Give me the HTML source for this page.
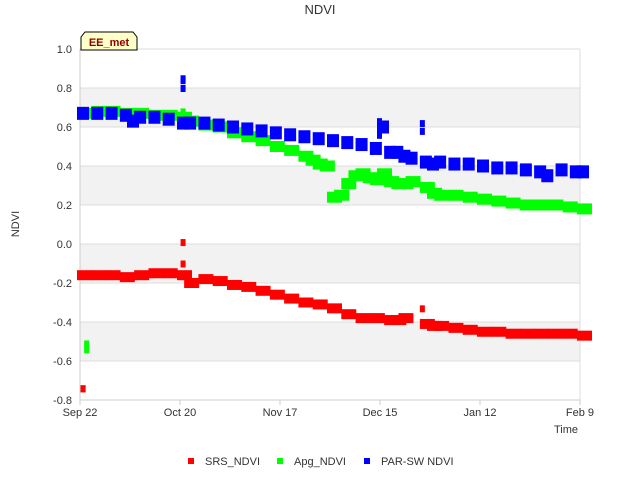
<!DOCTYPE html>
<html><head><meta charset="utf-8"><style>
body{margin:0;background:#fff;font-family:"Liberation Sans","DejaVu Sans",sans-serif}
</style></head><body>
<svg width="640" height="480" xmlns="http://www.w3.org/2000/svg" font-family="Liberation Sans, DejaVu Sans, sans-serif">
<text x="320" y="14" text-anchor="middle" font-size="13" fill="#333">NDVI</text>
<g id="grid"></g>
<g id="yt"></g>
<g id="xt"></g>
<text transform="translate(19,224) rotate(-90)" text-anchor="middle" font-size="11" fill="#333">NDVI</text>
<text x="578" y="433" text-anchor="end" font-size="11" fill="#333">Time</text>
<g id="marks"></g>
<g>
<path d="M81,50 L81,37 L85,32 L133,32 L137,37 L137,50 Z" fill="#ffffc8" stroke="#000" stroke-width="1"/>
<text x="109" y="46" text-anchor="middle" font-size="11" font-weight="bold" fill="#8b0000">EE_met</text>
</g>
<g>
<g><rect x="188" y="458" width="6" height="6" fill="#f00"/><text x="205" y="465" font-size="11" fill="#333">SRS_NDVI</text></g>
<g><rect x="277" y="458" width="6" height="6" fill="#0f0"/><text x="294" y="465" font-size="11" fill="#333">Apg_NDVI</text></g>
<g><rect x="364" y="458" width="6" height="6" fill="#00f"/><text x="381" y="465" font-size="11" fill="#333">PAR-SW NDVI</text></g>
</g>
</svg>
<script>
const yTicks=[1.0,0.8,0.6,0.4,0.2,0.0,-0.2,-0.4,-0.6,-0.8];
const xTickDays=[0,28,56,84,112,140];
const xTickLabels=["Sep 22","Oct 20","Nov 17","Dec 15","Jan 12","Feb 9"];
const parDays=[0,4,8,12,14,16,20,24,28,30,34,38,42,46,50,54,58,62,66,70,74,78,82,84,86,88,90,92,96,98,100,104,108,112,116,120,124,128,130,134,138,140];
const parVals=[0.67,0.67,0.67,0.66,0.63,0.65,0.65,0.64,0.62,0.62,0.62,0.61,0.60,0.59,0.58,0.57,0.56,0.55,0.54,0.53,0.52,0.51,0.49,0.60,0.47,0.47,0.45,0.44,0.42,0.41,0.42,0.41,0.41,0.40,0.39,0.39,0.38,0.37,0.35,0.38,0.37,0.37];
const aDays=[0,4,8,12,16,20,24,28,30,34,38,42,46,50,54,58,62,64,66,68,70,72,74,76,78,80,82,84,86,88,90,92,96,98,100,104,108,112,116,120,124,128,132,136,140];
const aVals=[0.67,0.68,0.68,0.67,0.67,0.66,0.66,0.65,0.63,0.61,0.60,0.57,0.55,0.53,0.50,0.48,0.45,0.43,0.41,0.40,0.24,0.25,0.31,0.35,0.36,0.34,0.33,0.36,0.32,0.31,0.31,0.32,0.29,0.26,0.25,0.25,0.24,0.23,0.22,0.21,0.20,0.20,0.20,0.19,0.18];
const sDays=[0,4,8,12,16,20,24,28,30,34,38,42,46,50,54,58,62,66,70,74,78,82,86,88,90,96,98,100,104,108,112,116,120,124,128,132,136,140];
const sVals=[-0.16,-0.16,-0.16,-0.17,-0.16,-0.15,-0.15,-0.16,-0.20,-0.18,-0.19,-0.21,-0.22,-0.24,-0.26,-0.28,-0.30,-0.31,-0.33,-0.36,-0.38,-0.38,-0.39,-0.39,-0.38,-0.41,-0.42,-0.42,-0.43,-0.44,-0.45,-0.45,-0.46,-0.46,-0.46,-0.46,-0.46,-0.47];
const outDays=[1,1,29,29,29,29,29,29,96,96,2,2,84,84,96];
const outVals=[-0.74,-0.74,0.01,-0.1,0.85,0.80,0.68,0.84,0.62,-0.33,-0.51,-0.54,0.56,0.63,0.58];
const outSeries=["s","s","s","s","p","p","a","p","p","s","a","a","p","p","p"];
const X=d=>80+d*500/140, Y=v=>244-v*195;
const NS="http://www.w3.org/2000/svg";
function el(t,a,p){const e=document.createElementNS(NS,t);for(const k in a)e.setAttribute(k,a[k]);p.appendChild(e);return e;}
const grid=document.getElementById('grid'),yt=document.getElementById('yt'),xt=document.getElementById('xt'),marks=document.getElementById('marks');
for(let i=0;i<yTicks.length-1;i++){if(i%2==1){const r=el('rect',{x:80,y:Y(yTicks[i]),width:500,height:Y(yTicks[i+1])-Y(yTicks[i]),fill:'#f2f2f2'},grid);

}}
yTicks.forEach(v=>{const l=el('line',{x1:80,x2:580,y1:Y(v),y2:Y(v),stroke:'#ddd'},grid);


const t=el('text',{x:72,y:Y(v)+4,'text-anchor':'end','font-size':11,fill:'#333'},yt);t.textContent=v.toFixed(1);

});
el('line',{x1:80,x2:80,y1:49,y2:400,stroke:'#ccc'},grid);el('line',{x1:580,x2:580,y1:49,y2:400,stroke:'#ddd'},grid);el('line',{x1:80,x2:580,y1:400,y2:400,stroke:'#ccc'},grid);
xTickDays.forEach((d,i)=>{el('line',{x1:X(d),x2:X(d),y1:400,y2:405,stroke:'#ccc'},xt);
const t=el('text',{x:X(d),y:416,'text-anchor':'middle','font-size':11,fill:'#333'},xt);t.textContent=xTickLabels[i];

});
function draw(days,vals,col,name,w,h){days.forEach((d,i)=>{const r=el('rect',{x:X(d)-3,y:Y(vals[i])-h/2,width:w,height:h,fill:col},marks);

});}
draw(sDays,sVals,'#f00','srs-point',15,10);
draw(aDays,aVals,'#0f0','apg-point',15,11);
draw(parDays,parVals,'#00f','par-point',12,13);
const cols={s:'#f00',a:'#0f0',p:'#00f'};
outDays.forEach((d,i)=>{const r=el('rect',{x:X(d)-3,y:Y(outVals[i])-3,width:5,height:7,fill:cols[outSeries[i]]},marks);

});
</script>
</body></html>
